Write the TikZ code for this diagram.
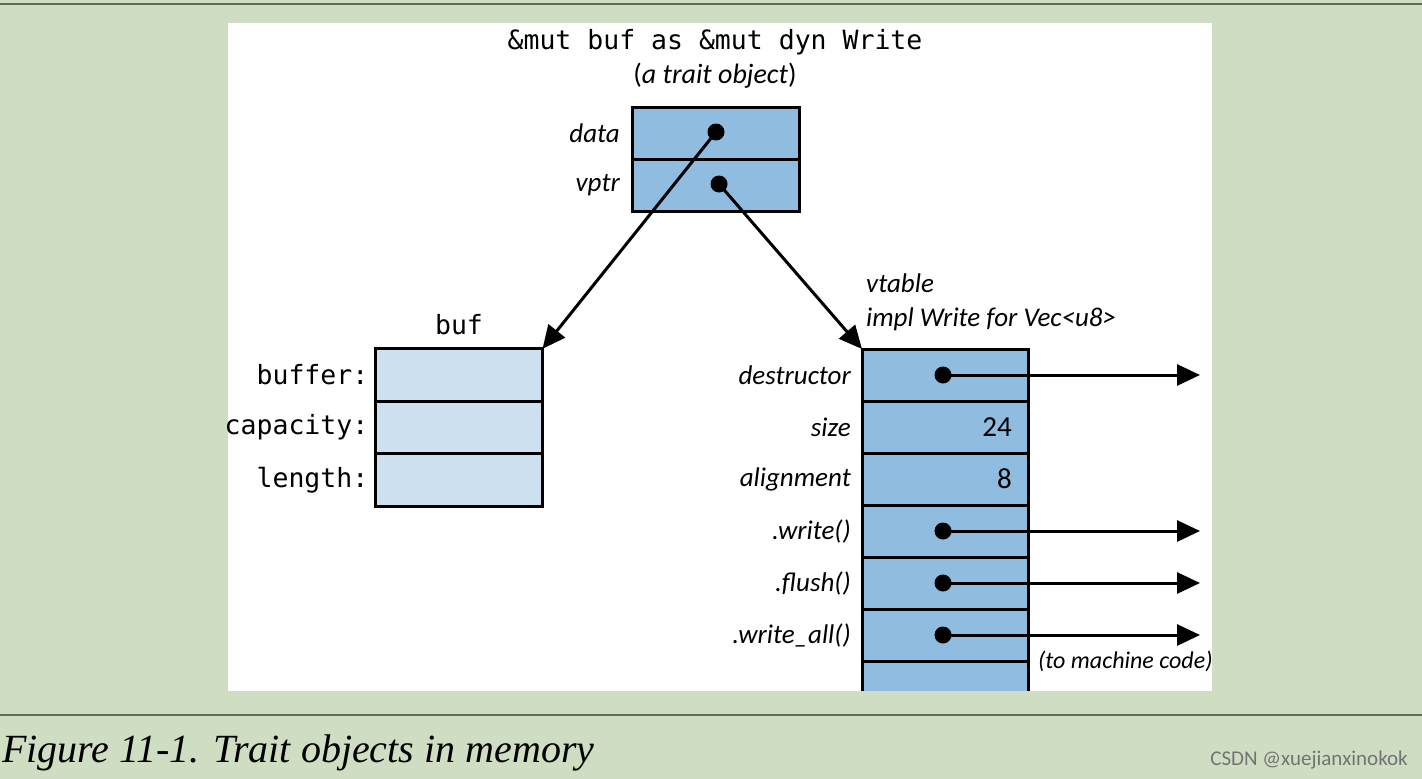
\documentclass[tikz,border=0pt]{standalone}
\usepackage{fontspec}
\setmainfont{Carlito}
\setmonofont{DejaVu Sans Mono}
\newfontfamily\captionfont{Liberation Serif}
\usetikzlibrary{positioning,arrows.meta}
\definecolor{pagegreen}{RGB}{207,222,195}
\definecolor{ruleline}{RGB}{95,107,90}
\definecolor{slotblue}{RGB}{143,188,223}
\definecolor{paleblue}{RGB}{204,224,239}
\begin{document}
\begin{tikzpicture}[
    x=1pt, y=-1pt,
    slot/.style={draw, line width=3pt, fill=slotblue, minimum width=167pt, minimum height=52pt, outer sep=0pt, inner sep=0pt},
    bufslot/.style={slot, fill=paleblue, minimum height=52.4pt},
    fieldname/.style={font=\fontsize{27}{30}\selectfont\itshape, inner sep=0pt},
    codename/.style={font=\fontsize{26.5}{30}\selectfont\ttfamily, inner sep=0pt},
    ptr/.style={line width=3pt, -{Triangle[length=23pt,width=21pt]}},
    dot/.style={circle, fill, inner sep=0pt, minimum size=17pt}
]
    \useasboundingbox (0,0) rectangle (1422,779);
    \fill[pagegreen] (0,0) rectangle (1422,779);
    \fill[white] (228,23) rectangle (1212,691);
    \draw[ruleline, line width=2.5pt] (0,4) -- (1422,4);
    \draw[ruleline, line width=2.5pt] (0,715) -- (1422,715);

    % The trait object
    \node[codename] (title) at (715,42) {\&mut buf as \&mut dyn Write};
    \node[font=\fontsize{28}{30}\selectfont] (subtitle) at (715,76) {(\textit{a trait object})};
    \node[slot] (data) at (715.5,133) {};
    \node[slot, below=0pt of data] (vptr) {};
    \node[fieldname, left=12pt of data] (datalbl) {data};
    \node[fieldname, left=12pt of vptr] (vptrlbl) {vptr};

    % The buffer
    \node[bufslot] (buffer) at (459,375) {};
    \node[bufslot, below=0pt of buffer] (capacity) {};
    \node[bufslot, below=0pt of capacity] (length) {};
    \node[codename, above=14pt of buffer] (buflbl) {buf};
    \node[codename, left=7pt of buffer] (bufferlbl) {buffer:};
    \node[codename, left=7pt of capacity] (capacitylbl) {capacity:};
    \node[codename, left=7pt of length] (lengthlbl) {length:};

    % The vtable
    \node[slot, minimum width=166pt] (destructor) at (945,375) {};
    \node[slot, minimum width=166pt, below=0pt of destructor] (size) {};
    \node[slot, minimum width=166pt, below=0pt of size] (alignment) {};
    \node[slot, minimum width=166pt, below=0pt of alignment] (write) {};
    \node[slot, minimum width=166pt, below=0pt of write] (flush) {};
    \node[slot, minimum width=166pt, below=0pt of flush] (writeall) {};
    \node[fill=slotblue, minimum width=166pt, minimum height=30pt, inner sep=0pt, outer sep=0pt, below=0pt of writeall] (vtail) {};
    \draw[line width=3pt] (vtail.south west) -- (vtail.north west) -- (vtail.north east) -- (vtail.south east);

    \node[fieldname, anchor=base west] (vtlbl) at (866,292) {vtable};
    \node[fieldname, anchor=base west] (impllbl) at (866,326) {impl Write for Vec<u8>};
    \node[fieldname, left=11pt of destructor] (destructorlbl) {destructor};
    \node[fieldname, left=11pt of size] (sizelbl) {size};
    \node[fieldname, left=11pt of alignment] (alignmentlbl) {alignment};
    \node[fieldname, left=11pt of write] (writelbl) {.write()};
    \node[fieldname, left=11pt of flush] (flushlbl) {.flush()};
    \node[fieldname, left=11pt of writeall] (writealllbl) {.write\_all()};
    \node[fieldname, font=\fontsize{29}{30}\selectfont, anchor=east] (sizeval) at ([xshift=-16pt]size.east) {24};
    \node[fieldname, font=\fontsize{29}{30}\selectfont, anchor=east] (alignval) at ([xshift=-16pt]alignment.east) {8};

    % Pointers
    \node[dot] (datadot) at (716,132) {};
    \node[dot] (vptrdot) at (719,184) {};
    \draw[ptr] (datadot.center) -- (buffer.north east);
    \draw[ptr] (vptrdot.center) -- (destructor.north west);

    \coordinate (codeedge) at (1200,0);
    \foreach \s in {destructor, write, flush, writeall} {
        \node[dot] (\s dot) at ([xshift=-2pt]\s.center) {};
        \coordinate (\s code) at (\s.center -| codeedge);
        \draw[ptr] (\s dot.center) -- (\s code);
    }
    \node[fieldname, font=\fontsize{24}{28}\selectfont\itshape, anchor=west] (machine) at (1038,661) {(to machine code)};

    % Caption
    \node[anchor=base west, inner sep=0pt, font=\captionfont\itshape\fontsize{40}{42}\selectfont] (caption) at (2,762) {Figure 11-1. Trait objects in memory};
    \node[anchor=base east, inner sep=0pt, text=black!55, font=\fontsize{21}{24}\selectfont] (mark) at (1408,765) {CSDN @xuejianxinokok};
\end{tikzpicture}
\end{document}
